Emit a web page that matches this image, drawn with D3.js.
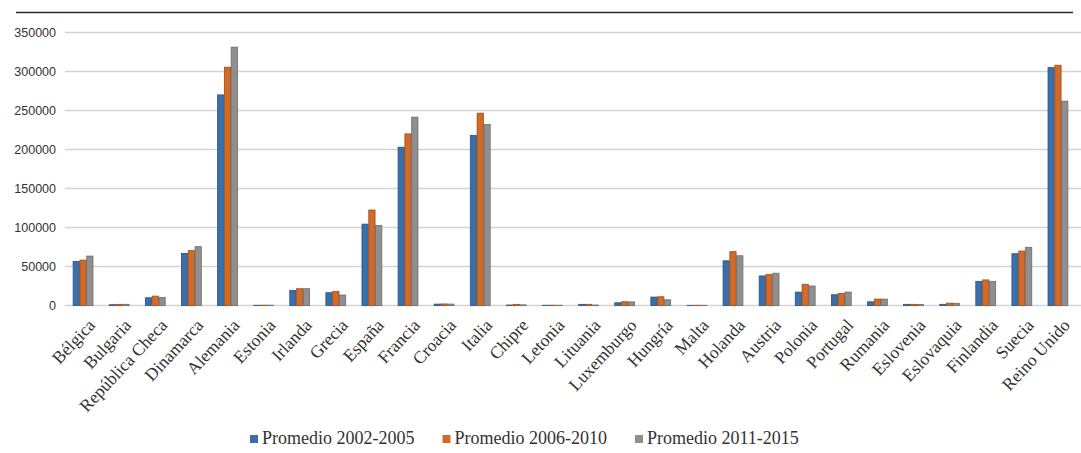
<!DOCTYPE html>
<html>
<head>
<meta charset="utf-8">
<script src="https://cdn.jsdelivr.net/npm/d3@7"></script>
<style>
  html, body { margin: 0; padding: 0; background: #fff; overflow: hidden; }
  svg { display: block; }
</style>
</head>
<body>
<svg id="chart"></svg>
<script>
// data
const countries = ["Bélgica", "Bulgaria", "República Checa", "Dinamarca", "Alemania", "Estonia",
    "Irlanda", "Grecia", "España", "Francia", "Croacia", "Italia", "Chipre", "Letonia",
    "Lituania", "Luxemburgo", "Hungría", "Malta", "Holanda", "Austria", "Polonia", "Portugal",
    "Rumania", "Eslovenia", "Eslovaquia", "Finlandia", "Suecia", "Reino Unido"];

const seriesNames = ["Promedio 2002-2005", "Promedio 2006-2010", "Promedio 2011-2015"];

const avg2002_2005 = [56500, 1000, 9900, 66800, 270000, 300, 19400, 16400, 104300, 203000, 1800, 218000,
    600, 300, 1500, 3500, 10800, 200, 57300, 37900, 17200, 13800, 4700, 1500, 1500, 31000, 66400, 305000];
const avg2006_2010 = [58200, 1500, 12000, 70300, 305500, 400, 21500, 18100, 122400, 220000, 2000, 246600,
    1500, 400, 1500, 4800, 11200, 300, 69000, 39700, 27200, 15500, 8200, 1500, 3000, 32800, 69800, 308000];
const avg2011_2015 = [63400, 1500, 10300, 75400, 331200, 400, 21500, 13400, 102600, 241500, 1800, 232000,
    800, 300, 600, 4600, 7300, 300, 63800, 41400, 25000, 17200, 8200, 1200, 2800, 31000, 74600, 262000];

const yTicks = [0, 50000, 100000, 150000, 200000, 250000, 300000, 350000];

const colors = ["#3b6fa9", "#d26a2a", "#8f8f8f"];
const strokes = ["#2a5282", "#9e4a17", "#6a6a6a"];

const width = 1081, height = 453;
const svg = d3.select("#chart").attr("width", width).attr("height", height);

const seriesValues = [avg2002_2005, avg2006_2010, avg2011_2015];
const rows = countries.map((c, i) => ({
    country: c,
    values: seriesValues.map((s, k) => ({ key: k, value: s[i] }))
}));

const x0 = d3.scaleBand().domain(countries).range([65, 1076]).paddingInner(0.42).paddingOuter(0.21);
const x1 = d3.scaleBand().domain([0, 1, 2]).range([0, x0.bandwidth()]).padding(0.08);
const y = d3.scaleLinear().domain([0, 350000]).range([305.5, 32.5]);

// top rule left over from the page
svg.append("line")
    .attr("x1", 16).attr("x2", 1073)
    .attr("y1", 12.5).attr("y2", 12.5)
    .attr("stroke", "#2a2a2a").attr("stroke-width", 1.6);

// gridlines
svg.append("g")
    .selectAll("line")
    .data(yTicks)
    .enter()
    .append("line")
    .attr("x1", 65).attr("x2", width)
    .attr("y1", d => y(d)).attr("y2", d => y(d))
    .attr("stroke", "#d4d4d4")
    .attr("stroke-width", 1.6);

// y axis labels
const yAxis = svg.append("g")
    .attr("transform", "translate(56,0)")
    .call(d3.axisLeft(y).tickValues(yTicks).tickSize(0).tickPadding(0).tickFormat(d3.format("d")));
yAxis.select(".domain").remove();
yAxis.selectAll("text")
    .attr("font-family", "'Liberation Sans', Arial, sans-serif")
    .attr("font-size", "12.5px")
    .attr("fill", "#333");

// bars
svg.append("g")
    .selectAll("g")
    .data(rows)
    .enter()
    .append("g")
    .attr("transform", d => `translate(${x0(d.country)},0)`)
    .selectAll("rect")
    .data(d => d.values)
    .enter()
    .append("rect")
    .attr("x", d => x1(d.key))
    .attr("width", x1.bandwidth())
    .attr("y", d => y(d.value))
    .attr("height", d => y(0) - y(d.value))
    .attr("fill", d => colors[d.key])
    .attr("stroke", d => strokes[d.key])
    .attr("stroke-width", 0.8);

// rotated country labels
svg.append("g")
    .selectAll("text")
    .data(countries)
    .enter()
    .append("text")
    .attr("transform", d => `translate(${x0(d) + x0.bandwidth() / 2 + 13},326) rotate(-47)`)
    .attr("text-anchor", "end")
    .attr("font-family", "'Liberation Serif', 'Times New Roman', serif")
    .attr("font-size", "17.5px")
    .attr("fill", "#333")
    .text(d => d);

// legend
const legend = svg.append("g");
let lx = 250;
seriesNames.forEach((name, k) => {
    legend.append("rect")
        .attr("x", lx).attr("y", 435)
        .attr("width", 8).attr("height", 8)
        .attr("fill", colors[k]);
    const t = legend.append("text")
        .attr("x", lx + 12).attr("y", 444)
        .attr("font-family", "'Liberation Serif', 'Times New Roman', serif")
        .attr("font-size", "18px")
        .attr("fill", "#333")
        .text(name);
    lx += 12 + t.node().getComputedTextLength() + 28;
});
</script>
</body>
</html>
